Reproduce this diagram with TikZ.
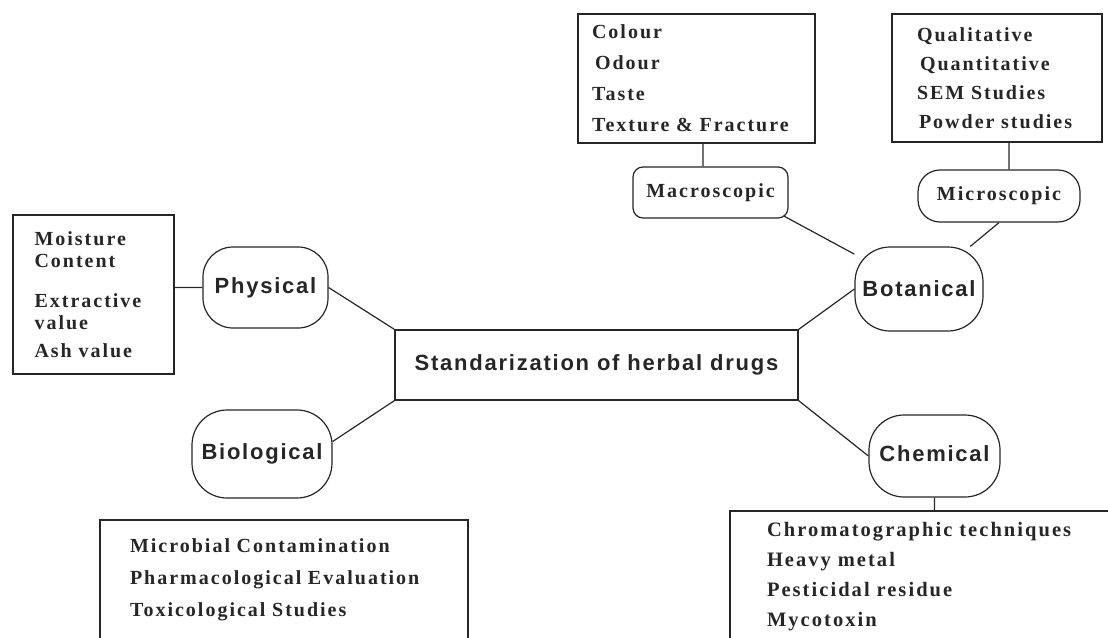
\documentclass[tikz,border=0pt]{standalone}
\usepackage{fontspec}
\setmainfont{Liberation Serif}
\newfontfamily\topicsans[LetterSpace=8]{Liberation Sans}
\newfontfamily\itemserif[LetterSpace=10]{Liberation Serif}
\usetikzlibrary{backgrounds}

\tikzset{
topic/.style={draw, fill=white, inner sep=0pt, rounded corners=35pt,
  font=\topicsans\bfseries\fontsize{22}{26}\selectfont},
subtopic/.style={draw, fill=white, inner sep=0pt,
  font=\itemserif\bfseries\fontsize{20}{24}\selectfont},
itembox/.style={draw, align=left, inner ysep=0pt,
  font=\itemserif\bfseries\fontsize{20}{31}\selectfont},
link/.style={line width=1.2pt, black!85},
}

\begin{document}
\begin{tikzpicture}[x=1pt, y=-1pt, line width=1.2pt, color=black!85]
\useasboundingbox (0,0) rectangle (1108,637);
\clip (0,0) rectangle (1108,637);

% Define nodes
\path
(596.5,365) node[draw, minimum width=403pt, minimum height=70pt,
  font=\topicsans\bfseries\fontsize{22}{26}\selectfont] (std) {Standarization of herbal drugs}
(265.5,287.5) node[topic, rounded corners=30pt, minimum width=125pt, minimum height=81pt] (phys) {Physical}
(262,454) node[topic, minimum width=140pt, minimum height=88pt] (bio) {Biological}
(919,289) node[topic, minimum width=128pt, minimum height=84pt] (bot) {Botanical}
(934.5,456) node[topic, minimum width=131pt, minimum height=82pt] (chem) {\raisebox{5pt}{Chemical}}
(710.5,192.5) node[subtopic, rounded corners=10pt, minimum width=155pt, minimum height=51pt] (macro) {Macroscopic}
(999,196) node[subtopic, rounded corners=22pt, minimum width=162pt, minimum height=52pt] (micro) {Microscopic}
;

\path
(93.5,294.5) node[itembox, font=\itemserif\bfseries\fontsize{20}{22}\selectfont,
  text width=118pt, inner xsep=21.5pt, minimum height=159pt] (physlist)
  {Moisture\\Content\\[18pt]Extractive\\value\\[6pt]Ash value}
(696.5,78.5) node[itembox, text width=209pt, inner xsep=14pt, minimum height=129pt] (macrolist)
  {Colour\\\hspace{3pt}Odour\\Taste\\Texture \& Fracture}
(997,78) node[itembox, font=\itemserif\bfseries\fontsize{20}{29}\selectfont,
  text width=160pt, inner xsep=25pt, minimum height=128pt] (microlist)
  {Qualitative\\\hspace{3pt}Quantitative\\SEM Studies\\\hspace{2pt}Powder studies}
(284,580) node[itembox, font=\itemserif\bfseries\fontsize{20}{32}\selectfont,
  text width=308pt, inner xsep=30pt, minimum height=120pt] (biolist)
  {Microbial Contamination\\Pharmacological Evaluation\\Toxicological Studies}
(927.5,577) node[itembox, font=\itemserif\bfseries\fontsize{20.5}{30}\selectfont,
  text width=321pt, inner xsep=37pt, minimum height=132pt] (chemlist)
  {Chromatographic techniques\\Heavy metal\\Pesticidal residue\\Mycotoxin}
;

\draw
(physlist.east |- phys.west) -- (phys.west)
(phys.east) -- (std.north west)
(bio.10) -- (std.south west)
(std.north east) -- (bot.west)
(std.south east) -- (chem.west)
([xshift=-7.5pt]macro.north) -- ([xshift=-7.5pt]macro.north |- macrolist.south)
([xshift=10pt]micro.north) -- ([xshift=10pt]micro.north |- microlist.south)
(chem.south) -- (chem.south |- chemlist.north)
;

\begin{scope}[on background layer]
\draw[link, shorten <=-5pt] (macro.south east) -- (bot);
\draw[link] (micro.south) -- (bot);
\end{scope}

\end{tikzpicture}
\end{document}
